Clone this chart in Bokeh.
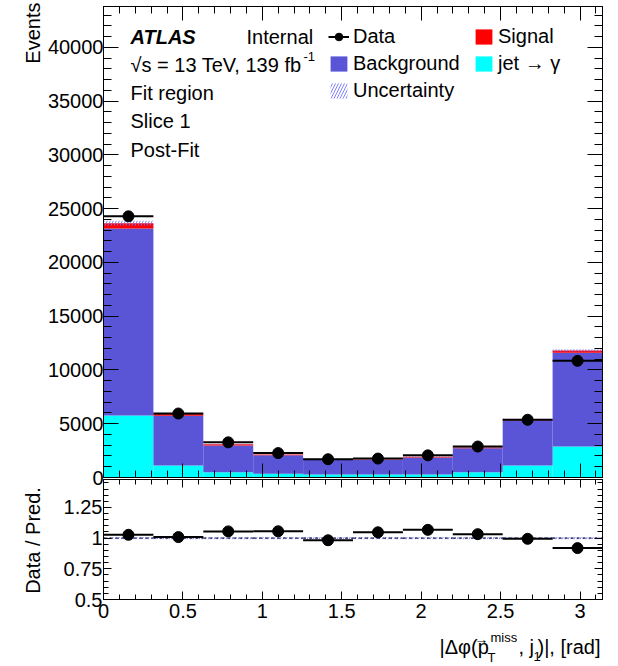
import numpy as np
from bokeh.plotting import figure
from bokeh.models import (Range1d, LinearAxis, SingleIntervalTicker, CustomJSTickFormatter,
                          Label, Legend, LegendItem, ColumnDataSource)
from bokeh.layouts import column, row
from bokeh.embed import file_html
from bokeh.resources import INLINE

# ---- binning: 10 equal bins of |dphi(pTmiss, j1)| in [0, pi] ----
n_bins = 10
bin_edges = np.linspace(0.0, np.pi, n_bins + 1)

# ---- post-fit yields per bin ----
jet_to_gamma = [5770, 1115, 495, 340, 280, 280, 280, 490, 1120, 2880]
background = [17380, 4635, 2485, 1720, 1390, 1350, 1590, 2220, 4180, 8710]
signal = [500, 150, 120, 90, 60, 50, 60, 80, 100, 220]
data = [24290, 5950, 3270, 2270, 1700, 1760, 2060, 2880, 5370, 10850]
rel_uncertainty = [0.010, 0.010, 0.010, 0.010, 0.010, 0.010, 0.010, 0.010, 0.010, 0.010]

FONT = "Liberation Sans"
FS = "20px"
PURPLE = "#5a54d6"
CYAN = "#00ffff"
RED = "#ff0000"
HATCH = "#7373ff"

jet = np.array(jet_to_gamma, float)
bkg_top = jet + np.array(background, float)
pred = bkg_top + np.array(signal, float)
obs = np.array(data, float)
unc = np.array(rel_uncertainty, float)
ratio = obs / pred
stat = np.sqrt(obs)

src = ColumnDataSource(dict(
    left=bin_edges[:-1], right=bin_edges[1:], x=0.5 * (bin_edges[:-1] + bin_edges[1:]),
    zero=np.zeros(n_bins), jet=jet, bkg_top=bkg_top, pred=pred,
    unc_lo=pred * (1 - unc), unc_hi=pred * (1 + unc),
    obs=obs, obs_lo=obs - stat, obs_hi=obs + stat,
    ratio=ratio, r_lo=ratio - stat / pred, r_hi=ratio + stat / pred,
    one_lo=1 - unc, one_hi=1 + unc,
))

STRIP = 44               # left strip holding the rotated axis titles
W = 618 - STRIP
LEFT, RIGHT = 103 - STRIP, 16
Y_MAX = 43800
R_MIN, R_MAX = 0.5, 1.4775

fmt = CustomJSTickFormatter(code="return String(Math.round(tick * 100) / 100);")
blank = CustomJSTickFormatter(code="return '';")


def style_axis(ax, major, minor, labels=True, standoff=3):
    ax.major_tick_in = major
    ax.major_tick_out = 0
    ax.minor_tick_in = minor
    ax.minor_tick_out = 0
    ax.axis_line_color = "black"
    ax.major_tick_line_color = "black"
    ax.minor_tick_line_color = "black"
    ax.axis_line_width = 1
    ax.major_label_text_font = FONT
    ax.major_label_text_color = "black"
    if labels:
        ax.formatter = fmt
        ax.major_label_text_font_size = FS
        ax.major_label_standoff = standoff
    else:
        ax.formatter = blank
        ax.major_label_text_font_size = "1px"
        ax.major_label_standoff = 0


def base_fig(height, x_range, y_range, top_border, bottom_border):
    f = figure(width=W, height=height, x_range=x_range, y_range=y_range,
               output_backend="svg", toolbar_location=None,
               min_border_left=LEFT, min_border_right=RIGHT,
               min_border_top=top_border, min_border_bottom=bottom_border)
    f.xgrid.visible = False
    f.ygrid.visible = False
    f.outline_line_color = "black"
    f.background_fill_color = "white"
    f.border_fill_color = "white"
    return f


def add_text(fig, x, y, text, size=FS, style="normal", align="left", angle=0.0):
    fig.add_layout(Label(x=x, y=y, text=text, text_font=FONT, text_font_size=size,
                         text_font_style=style, text_align=align, text_baseline="middle",
                         text_color="black", angle=angle))


x_range = Range1d(0, np.pi)
x_tick = SingleIntervalTicker(interval=0.5, num_minor_ticks=5)

# ================= upper panel: stacked yields =================
top = base_fig(490, x_range, Range1d(0, Y_MAX), 6, 13)
y_tick = SingleIntervalTicker(interval=5000, num_minor_ticks=5)
top.xaxis.ticker = x_tick
top.yaxis.ticker = y_tick
style_axis(top.xaxis[0], 14, 7, labels=False)
style_axis(top.yaxis[0], 15, 8, labels=True, standoff=0)
ax = LinearAxis(ticker=x_tick)
style_axis(ax, 14, 7, labels=False)
top.add_layout(ax, "above")
ax = LinearAxis(ticker=y_tick)
style_axis(ax, 15, 8, labels=False)
top.add_layout(ax, "right")

r_jet = top.quad(left="left", right="right", bottom="zero", top="jet", source=src,
                 fill_color=CYAN, line_color=None)
r_bkg = top.quad(left="left", right="right", bottom="jet", top="bkg_top", source=src,
                 fill_color=PURPLE, line_color=None)
r_sig = top.quad(left="left", right="right", bottom="bkg_top", top="pred", source=src,
                 fill_color=RED, line_color=None)
r_unc = top.quad(left="left", right="right", bottom="unc_lo", top="unc_hi", source=src,
                 fill_alpha=0, line_alpha=0, hatch_pattern="/", hatch_color=HATCH,
                 hatch_alpha=0.9, hatch_scale=6, hatch_weight=1)
r_derr = top.segment(x0="x", x1="x", y0="obs_lo", y1="obs_hi", source=src,
                     line_color="black", line_width=2)
r_dbar = top.segment(x0="left", x1="right", y0="obs", y1="obs", source=src,
                     line_color="black", line_width=2)
r_dpt = top.scatter(x="x", y="obs", source=src, size=11, marker="circle",
                    fill_color="black", line_color="black")

PX_PER_X = (W - LEFT - RIGHT) / np.pi


def tx(px):
    return (px - 103) / PX_PER_X


def ty(py):
    return (477 - py) * Y_MAX / 471.0


add_text(top, tx(130), ty(36), "ATLAS", style="bold italic")
add_text(top, tx(246), ty(36), "Internal")
add_text(top, tx(130), ty(64), "\u221as = 13 TeV, 139 fb")
add_text(top, tx(303), ty(56), "-1", size="13px")
add_text(top, tx(130), ty(92), "Fit region")
add_text(top, tx(130), ty(120), "Slice 1")
add_text(top, tx(130), ty(149), "Post-Fit")


def make_legend(items, loc):
    leg = Legend(items=items, location=loc, orientation="vertical",
                 border_line_alpha=0, background_fill_alpha=0, padding=0, margin=0,
                 spacing=4, glyph_width=21, glyph_height=19, label_height=19,
                 label_standoff=4, label_text_font=FONT, label_text_font_size=FS,
                 label_text_color="black")
    top.add_layout(leg)


make_legend([LegendItem(label="Data", renderers=[r_dbar, r_dpt]),
             LegendItem(label="Background", renderers=[r_bkg]),
             LegendItem(label="Uncertainty", renderers=[r_unc])], (225, 375))
make_legend([LegendItem(label="Signal", renderers=[r_sig]),
             LegendItem(label="jet \u2192 \u03b3", renderers=[r_jet])], (370, 402))

# ================= lower panel: data / prediction =================
bot = base_fig(148, x_range, Range1d(R_MIN, R_MAX), 1, 27)
bot.border_fill_alpha = 0
bot.margin = (-12, 0, 0, 0)
r_tick = SingleIntervalTicker(interval=0.25, num_minor_ticks=5)
bot.xaxis.ticker = x_tick
bot.yaxis.ticker = r_tick
style_axis(bot.xaxis[0], 8, 5, labels=True, standoff=4)
style_axis(bot.yaxis[0], 8, 5, labels=True, standoff=1)
ax = LinearAxis(ticker=x_tick)
style_axis(ax, 8, 5, labels=False)
bot.add_layout(ax, "above")
ax = LinearAxis(ticker=r_tick)
style_axis(ax, 8, 5, labels=False)
bot.add_layout(ax, "right")

bot.quad(left="left", right="right", bottom="one_lo", top="one_hi", source=src,
         fill_alpha=0, line_alpha=0, hatch_pattern="/", hatch_color=HATCH,
         hatch_alpha=0.9, hatch_scale=6, hatch_weight=1)
bot.segment(x0="left", x1="right", y0=1.0, y1=1.0, source=src,
            line_color="#222244", line_width=1.2, line_dash="3 3")
bot.segment(x0="x", x1="x", y0="r_lo", y1="r_hi", source=src, line_color="black", line_width=2)
bot.segment(x0="left", x1="right", y0="ratio", y1="ratio", source=src,
            line_color="black", line_width=2)
bot.scatter(x="x", y="ratio", source=src, size=11, marker="circle",
            fill_color="black", line_color="black")


def bare_fig(width, height, x0, x1, y0, y1, left=0, right=0):
    f = figure(width=width, height=height, x_range=Range1d(x0, x1), y_range=Range1d(y0, y1),
               x_axis_type=None, y_axis_type=None, output_backend="svg",
               toolbar_location=None, min_border=0,
               min_border_left=left, min_border_right=right)
    f.xgrid.visible = False
    f.ygrid.visible = False
    f.outline_line_color = None
    f.background_fill_color = "white"
    f.border_fill_color = "white"
    return f


# x-axis title with hand-placed sub/superscripts (page pixel coordinates; the frame
# lines up with the panels above, spanning x = 103..602)
xtitle = bare_fig(W, 40, 103, 618 - RIGHT, 666, 626, left=LEFT, right=RIGHT)
add_text(xtitle, 439, 646, "|\u0394\u03c6(p")
add_text(xtitle, 481, 638, "\u2192", size="14px", align="center")
add_text(xtitle, 490, 637, "miss", size="13px")
add_text(xtitle, 487, 657, "T", size="13px")
add_text(xtitle, 518, 646, ", j")
add_text(xtitle, 533, 656, "1", size="13px")
add_text(xtitle, 600, 646, ")|, [rad]", align="right")

# rotated y-axis titles
strip = bare_fig(STRIP, 666, 0, STRIP, 666, 0)
add_text(strip, 32.5, 2, "Events", align="right", angle=np.pi / 2)
add_text(strip, 32.5, 540, "Data / Pred.", align="center", angle=np.pi / 2)

layout = row(strip, column(top, bot, xtitle, spacing=0), spacing=0)
open("out.html", "w").write(file_html(layout, INLINE))
